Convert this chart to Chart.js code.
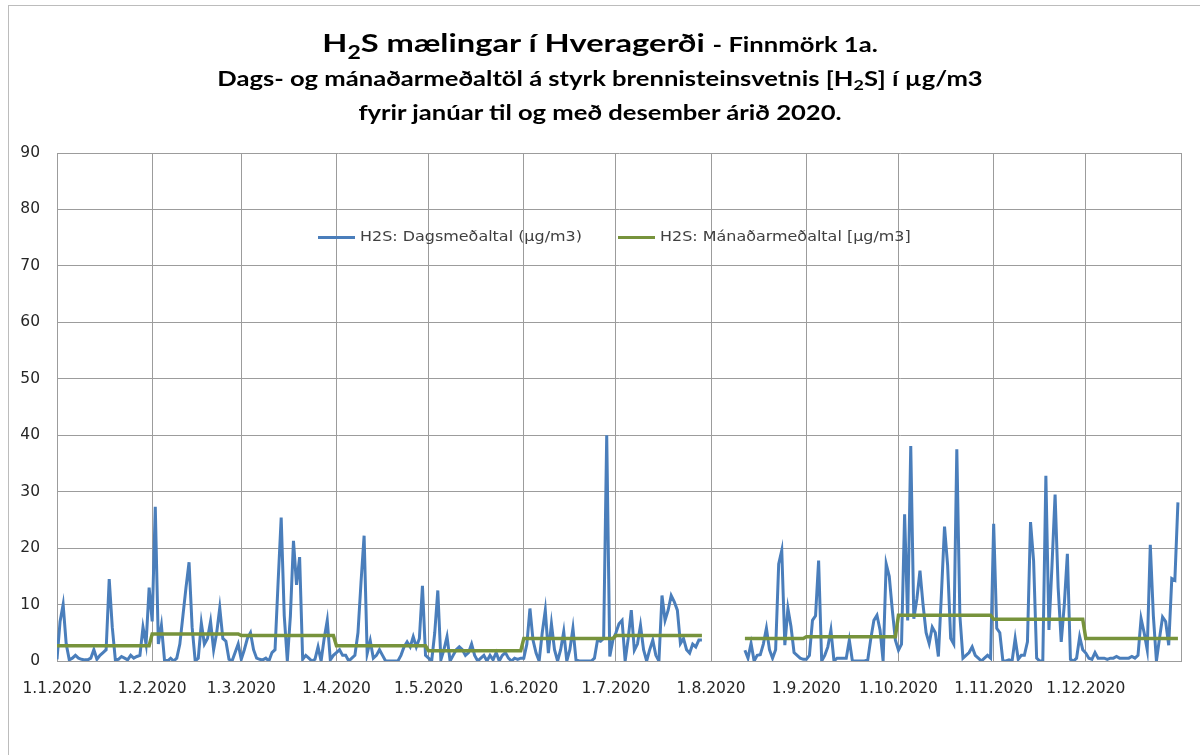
<!DOCTYPE html>
<html>
<head>
<meta charset="utf-8">
<script src="https://cdn.jsdelivr.net/npm/chart.js@4.4.1/dist/chart.umd.min.js"></script>
<style>
  html, body { margin: 0; padding: 0; background: #fff; }
  #wrap { position: relative; width: 1200px; height: 755px; overflow: hidden; }
  #frame { position: absolute; left: 8px; top: 5px; right: -2px; bottom: -2px; border-left: 1px solid #bcbcbc; border-top: 1px solid #bcbcbc; }
  canvas { position: absolute; left: 0; top: 0; }
  .title { position: absolute; left: 0; width: 1200px; text-align: center; font-family: Lato, "Noto Sans", sans-serif; font-weight: 700; color: #000; white-space: nowrap; transform: scaleX(1.28); transform-origin: 600px 0; }
  #t1 { top: 27px; font-size: 25.5px; }
  #t1 .small { font-size: 20px; }
  #t1 sub { font-size: 18px; vertical-align: -7px; line-height: 0; }
  #t2 { top: 66px; font-size: 20px; }
  #t2 sub { font-size: 14px; vertical-align: -4px; line-height: 0; }
  #t3 { top: 100px; font-size: 20px; }
  #legend { position: absolute; top: 228px; left: 318px; font-family: "DejaVu Sans", sans-serif; font-size: 14px; color: #404040; white-space: nowrap; }
  #legend .item { position: absolute; top: 0; }
  #legend .swatch { position: absolute; top: 8px; width: 37px; height: 3px; }
  #legend .label { position: absolute; left: 42px; top: 0; transform: scaleX(1.14); transform-origin: 0 0; }
</style>
</head>
<body>
<div id="wrap">
  <div id="frame"></div>
  <canvas id="chart" width="1200" height="755"></canvas>
  <div class="title" id="t1">H<sub>2</sub>S mælingar í Hveragerði <span class="small">- Finnmörk 1a.</span></div>
  <div class="title" id="t2">Dags- og mánaðarmeðaltöl á styrk brennisteinsvetnis [H<sub>2</sub>S] í µg/m3</div>
  <div class="title" id="t3">fyrir janúar til og með desember árið 2020.</div>
  <div id="legend"></div>
</div>
<script>
// daily means (µg/m3), one array per month, null = no measurement
const jan = [0.3, 7, 10, 3, 0.2, 0.5, 1, 0.5, 0.3, 0.2, 0.2, 0.5, 2, 0.3, 1, 1.5, 2, 14.5, 6, 0.2, 0.3, 0.8, 0.5, 0.2, 1, 0.5, 0.8, 1, 6, 3, 13];
const feb = [7, 27.3, 3, 6.3, 0.2, 0, 0.5, 0, 0.5, 3, 8, 13, 17.5, 6, 0, 0.5, 6.7, 3, 4, 7, 2, 5, 9.4, 4, 3.5, 0.3, 0, 1.5, 3];
const mar = [0.3, 2, 4, 5, 2, 0.5, 0.3, 0.2, 0.5, 0, 1.5, 2, 14, 25.4, 8, 0, 8, 21.3, 13.5, 18.4, 0.3, 1, 0.5, 0, 0.3, 2.5, 0, 4, 7.2, 0.2, 1];
const apr = [1.5, 2, 1, 1, 0, 0.5, 1, 5, 14, 22.2, 1.3, 3.6, 0.5, 1, 2, 1, 0, 0, 0, 0, 0, 1, 2.5, 3.4, 2.5, 4.3, 2.5, 4, 13.3, 1];
const may = [0.5, 0, 5, 12.5, 0.2, 2, 4.3, 0, 1, 2, 2.5, 2, 1, 1.5, 3, 1, 0, 0.5, 1, 0, 1, 0.2, 1.5, 0, 1, 1.5, 0.5, 0, 0.5, 0.3, 0.5];
const jun = [0.5, 3, 9.3, 3.7, 1.4, 0, 5, 9, 1.4, 6.6, 2, 0, 2, 5.2, 0, 2, 5.8, 0.2, 0, 0, 0, 0, 0, 0.5, 3.7, 3.5, 4, 40, 0.8, 3.7];
const jul = [5, 6.6, 7.2, 0, 4, 9, 1.9, 3, 6.3, 2, 0, 2, 3.7, 1, 0, 11.6, 7.2, 9, 11.6, 10.5, 9, 3.1, 4, 2, 1.4, 3, 2.5, 3.7, 3.7, null, null];
const aug = [null, null, null, null, null, null, null, null, null, null, null, 1.9, 0.5, 3.1, 0, 1, 1.1, 3, 5.8, 2, 0.5, 2, 17.2, 19.6, 2.8, 9.3, 6.1, 1.5, 1, 0.5, 0.3];
const sep = [0.3, 1, 7.2, 8, 17.8, 0, 1, 2.5, 5.5, 0, 0.5, 0.5, 0.5, 0.5, 3.7, 0, 0, 0, 0, 0, 0.2, 4, 7.2, 8.1, 5.5, 0, 17.2, 15, 9, 3.7];
const oct = [1.9, 3, 26, 7.2, 38.1, 7.5, 11, 16, 10, 5, 3.1, 6, 5, 0.8, 12, 23.8, 17, 4, 3, 37.5, 8, 0.5, 1, 1.5, 2.5, 1, 0.5, 0, 0.5, 1, 0.5];
const nov = [24.3, 5.8, 5, 0, 0, 0.2, 0, 4, 0.3, 1, 1, 3.4, 24.6, 17.8, 0.5, 0, 0, 32.8, 5.5, 17, 29.5, 13, 3.4, 10, 19, 0.3, 0, 0.5, 4.3, 2];
const dec = [1.4, 0.5, 0.3, 1.5, 0.5, 0.5, 0.5, 0.3, 0.5, 0.5, 0.8, 0.5, 0.5, 0.5, 0.5, 0.8, 0.5, 1, 7.5, 5, 2, 20.6, 8, 0, 4, 7.8, 7, 2.8, 14.6, 14.3, 28.1];

// monthly means (µg/m3)
const monthlyMeans = [2.7, 4.8, 4.5, 2.7, 1.8, 4.0, 4.5, 4.0, 4.3, 8.1, 7.4, 4.0];

// x axis: day of year where each month starts, and its label
const monthStartDays = [0, 31, 60, 91, 121, 152, 182, 213, 244, 274, 305, 335];
const monthLabels = ["1.1.2020", "1.2.2020", "1.3.2020", "1.4.2020", "1.5.2020", "1.6.2020",
  "1.7.2020", "1.8.2020", "1.9.2020", "1.10.2020", "1.11.2020", "1.12.2020"];
const yearEndDay = 366;

const seriesNames = ["H2S: Dagsmeðaltal (µg/m3)", "H2S: Mánaðarmeðaltal [µg/m3]"];
const seriesColors = ["#4a7ebb", "#77933c"];

const months = [jan, feb, mar, apr, may, jun, jul, aug, sep, oct, nov, dec];

const dailyPoints = [];
const monthlyPoints = [];
months.forEach((days, m) => {
  days.forEach((v, i) => {
    const x = monthStartDays[m] + i;
    dailyPoints.push({ x, y: v });
    monthlyPoints.push({ x, y: v === null ? null : monthlyMeans[m] });
  });
});

document.getElementById("legend").innerHTML = seriesNames.map((name, i) => `
  <div class="item" style="left:${i * 300}px">
    <span class="swatch" style="background:${seriesColors[i]}"></span>
    <span class="label">${name}</span>
  </div>`).join("");

const gridColor = "#9c9c9c";
const tickFont = { family: "'DejaVu Sans', sans-serif", size: 15.5 };

new Chart(document.getElementById("chart"), {
  type: "line",
  data: {
    datasets: [
      {
        label: seriesNames[0],
        data: dailyPoints,
        borderColor: seriesColors[0],
        borderWidth: 3,
        pointRadius: 0,
        tension: 0,
        spanGaps: false,
        order: 2
      },
      {
        label: seriesNames[1],
        data: monthlyPoints,
        borderColor: seriesColors[1],
        borderWidth: 3.5,
        pointRadius: 0,
        tension: 0,
        spanGaps: false,
        order: 1
      }
    ]
  },
  options: {
    responsive: false,
    animation: false,
    layout: { padding: { top: 153, right: 19, bottom: 54, left: 0 } },
    plugins: { legend: { display: false }, tooltip: { enabled: false } },
    scales: {
      x: {
        type: "linear",
        min: 0,
        max: yearEndDay,
        afterBuildTicks: axis => {
          axis.ticks = monthStartDays.concat([yearEndDay]).map(v => ({ value: v }));
        },
        afterFit: axis => { axis.height = 40; },
        grid: { color: gridColor, lineWidth: 1, drawTicks: false },
        border: { color: gridColor },
        ticks: {
          autoSkip: false,
          maxRotation: 0,
          padding: 19,
          color: "#262626",
          font: tickFont,
          callback: value => {
            const idx = monthStartDays.indexOf(value);
            return idx >= 0 ? monthLabels[idx] : "";
          }
        }
      },
      y: {
        min: 0,
        max: 90,
        afterFit: axis => { axis.width = 57; },
        grid: { color: gridColor, lineWidth: 1, drawTicks: false },
        border: { color: gridColor },
        ticks: { stepSize: 10, padding: 17, color: "#262626", font: tickFont }
      }
    }
  }
});
</script>
</body>
</html>
